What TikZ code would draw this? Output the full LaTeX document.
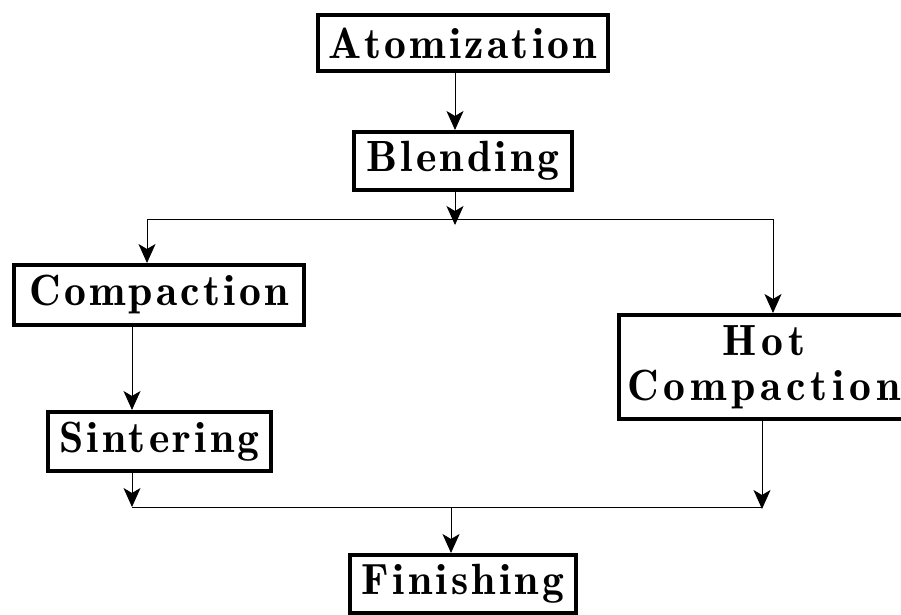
\documentclass[tikz,border=0pt]{standalone}
\usepackage{fontspec}
\newfontfamily\demifont[LetterSpace=7.5]{lmromandemi10-regular.otf}
\newfontfamily\demiwidefont[LetterSpace=11]{lmromandemi10-regular.otf}
\usetikzlibrary{arrows.meta,calc}
\tikzset{bigtip/.tip={Stealth[length=19pt,width=17pt,inset=5pt]}}
\begin{document}
\begin{tikzpicture}[x=1pt,y=-1pt,
  box/.style={draw, line width=4pt, inner sep=0pt, align=center,
    font=\fontsize{43.7}{42}\selectfont\demifont},
  widebox/.style={box, font=\fontsize{43.7}{45}\selectfont\demiwidefont},
  arr/.style={line width=0.9pt, -bigtip},
  ln/.style={line width=0.9pt}]
\clip (0,0) rectangle (901,614);
\node[box, minimum width=290, minimum height=56] (atom) at (463,43) {Atomization};
\node[box, minimum width=218, minimum height=58] (blend) at (463,161) {Blending};
\node[box, minimum width=290, minimum height=60] (comp) at (159,295) {Compaction};
\node[box, minimum width=223, minimum height=59] (sint) at (159.5,441.5) {Sintering};
\node[widebox, minimum width=290, minimum height=104] (hot) at (764,367) {Hot\\Compaction};
\node[box, minimum width=226, minimum height=58] (fin) at (463,584) {Finishing};
% routing coordinates
\coordinate (c1) at (455,0);
\coordinate (splitL) at (147,219);
\coordinate (splitR) at (773,219);
\coordinate (splitC) at (455,225);
\coordinate (mergeL) at (132,507);
\coordinate (mergeR) at (762,507);
\coordinate (mergeC) at (451,507);
\coordinate (mergeRt) at (762,509);
\draw[arr] (atom.south -| c1) -- (blend.north -| c1);
\draw[arr] (blend.south -| c1) -- (splitC);
\draw[ln] (splitL) -- (splitR);
\draw[arr] (splitL) -- (comp.north -| splitL);
\draw[arr] (splitR) -- (hot.north -| splitR);
\draw[arr] (comp.south -| mergeL) -- (sint.north -| mergeL);
\draw[arr] (sint.south -| mergeL) -- (mergeL);
\draw[arr] (hot.south -| mergeR) -- (mergeRt);
\draw[ln] (mergeL) -- (mergeR);
\draw[arr] (mergeC) -- (fin.north -| mergeC);
\end{tikzpicture}
\end{document}
